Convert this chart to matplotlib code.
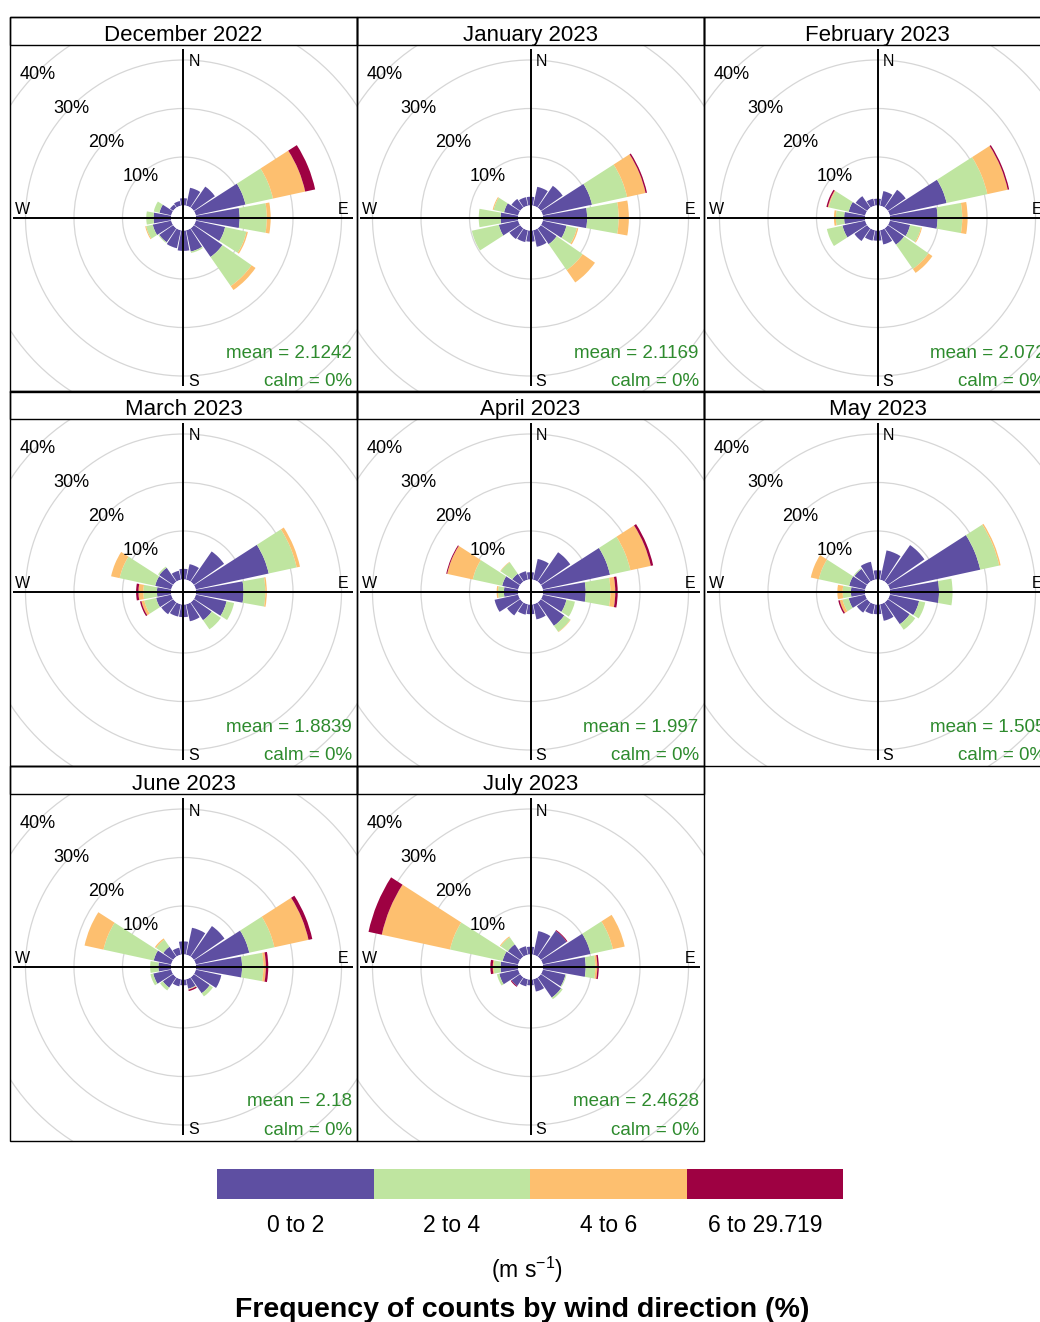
import numpy as np
import matplotlib
matplotlib.use('Agg')
import matplotlib.pyplot as plt
from matplotlib.patches import Rectangle, Circle

plt.rcParams['font.family'] = ['Liberation Sans', 'DejaVu Sans']
plt.rcParams['mathtext.fontset'] = 'custom'
plt.rcParams['mathtext.rm'] = 'Liberation Sans'
plt.rcParams['mathtext.it'] = 'Liberation Sans:italic'
plt.rcParams['mathtext.bf'] = 'Liberation Sans:bold'

# ---------------- data ----------------
months = ['December 2022', 'January 2023', 'February 2023', 'March 2023',
          'April 2023', 'May 2023', 'June 2023', 'July 2023']
mean_values = ['2.1242', '2.1169', '2.072', '1.8839', '1.997', '1.505', '2.18', '2.4628']
calm_values = ['0%'] * 8
directions = np.arange(16) * 22.5          # N, NNE, NE, ... NNW
speed_bins = ['0 to 2', '2 to 4', '4 to 6', '6 to 29.719']
speed_colors = ['#5E4FA2', '#BFE5A0', '#FDBF6F', '#9E0142']
grid_levels = [10, 20, 30, 40]

# percent frequency per direction (N..NNW) for each speed bin
#               N    NNE  NE   ENE   E    ESE  SE   SSE  S    SSW  SW   WSW  W    WNW   NW   NNW
dec_2022 = [[1.5, 3.8, 5.3, 10.5, 9.0, 6.2, 7.2, 4.5, 4.2, 3.8, 3.5, 3.9, 3.6, 2.5, 0.8, 1.0],
            [0.0, 0.0, 0.0, 5.8, 5.6, 4.5, 7.3, 0.3, 0.0, 0.0, 0.2, 1.4, 1.5, 1.2, 0.0, 0.0],
            [0.0, 0.0, 0.0, 6.8, 0.8, 0.3, 1.0, 0.0, 0.0, 0.0, 0.0, 0.2, 0.0, 0.0, 0.0, 0.0],
            [0.0, 0.0, 0.0, 2.1, 0.0, 0.0, 0.0, 0.0, 0.0, 0.0, 0.0, 0.0, 0.0, 0.0, 0.0, 0.0]]
jan_2023 = [[1.8, 4.0, 5.5, 10.4, 9.1, 5.0, 4.0, 3.5, 2.3, 2.5, 2.7, 4.1, 3.6, 3.0, 2.2, 1.8],
            [0.0, 0.0, 0.0, 7.4, 6.5, 2.2, 6.5, 0.0, 0.0, 0.0, 0.0, 5.7, 4.5, 2.2, 0.0, 0.0],
            [0.0, 0.0, 0.0, 3.9, 2.1, 0.3, 3.1, 0.0, 0.0, 0.0, 0.0, 0.0, 0.0, 0.2, 0.0, 0.0],
            [0.0, 0.0, 0.0, 0.3, 0.0, 0.0, 0.0, 0.0, 0.0, 0.0, 0.0, 0.0, 0.0, 0.0, 0.0, 0.0]]
feb_2023 = [[1.4, 3.1, 4.5, 12.0, 9.8, 4.3, 4.1, 3.0, 2.1, 2.2, 3.2, 4.8, 4.3, 3.5, 2.9, 1.5],
            [0.0, 0.0, 0.0, 8.6, 5.1, 2.3, 6.1, 0.0, 0.0, 0.0, 0.0, 3.3, 1.7, 4.2, 0.0, 0.0],
            [0.0, 0.0, 0.0, 4.3, 1.1, 0.2, 1.0, 0.0, 0.0, 0.0, 0.0, 0.0, 0.4, 0.2, 0.0, 0.0],
            [0.0, 0.0, 0.0, 0.3, 0.0, 0.0, 0.0, 0.0, 0.0, 0.0, 0.0, 0.0, 0.0, 0.3, 0.0, 0.0]]
mar_2023 = [[2.2, 3.3, 7.6, 15.4, 9.8, 6.5, 4.5, 3.6, 2.6, 2.6, 3.0, 3.2, 2.9, 3.4, 3.5, 1.9],
            [0.0, 0.0, 0.0, 5.9, 4.5, 1.6, 2.3, 0.0, 0.0, 0.0, 0.0, 2.5, 2.8, 7.5, 0.3, 0.0],
            [0.0, 0.0, 0.0, 0.7, 0.3, 0.0, 0.0, 0.0, 0.0, 0.0, 0.0, 0.6, 1.0, 1.8, 0.0, 0.0],
            [0.0, 0.0, 0.0, 0.0, 0.0, 0.0, 0.0, 0.0, 0.0, 0.0, 0.0, 0.3, 0.5, 0.0, 0.0, 0.0]]
apr_2023 = [[1.5, 4.4, 7.4, 14.2, 8.8, 5.0, 5.9, 3.2, 2.0, 2.2, 3.3, 5.0, 2.9, 3.4, 2.0, 1.8],
            [0.0, 0.0, 0.0, 4.3, 5.1, 1.8, 1.5, 0.0, 0.0, 0.0, 0.0, 0.0, 1.2, 6.2, 2.9, 0.0],
            [0.0, 0.0, 0.0, 4.3, 1.0, 0.0, 0.1, 0.0, 0.0, 0.0, 0.0, 0.0, 0.3, 5.4, 0.1, 0.0],
            [0.0, 0.0, 0.0, 0.5, 0.5, 0.0, 0.0, 0.0, 0.0, 0.0, 0.0, 0.0, 0.0, 0.2, 0.0, 0.0]]
may_2023 = [[1.9, 6.2, 9.2, 19.1, 10.1, 6.2, 5.5, 3.5, 2.0, 2.1, 2.6, 3.5, 2.9, 3.4, 3.2, 3.8],
            [0.0, 0.0, 0.0, 4.0, 2.8, 1.3, 1.4, 0.0, 0.0, 0.0, 0.0, 1.3, 1.7, 6.4, 0.2, 0.0],
            [0.0, 0.0, 0.0, 0.3, 0.0, 0.0, 0.0, 0.0, 0.0, 0.0, 0.0, 0.6, 1.1, 1.7, 0.0, 0.0],
            [0.0, 0.0, 0.0, 0.0, 0.0, 0.0, 0.0, 0.0, 0.0, 0.0, 0.0, 0.3, 0.0, 0.0, 0.0, 0.0]]
jun_2023 = [[2.7, 5.7, 7.7, 11.3, 9.5, 5.4, 4.0, 2.0, 1.2, 1.5, 2.6, 3.8, 2.6, 3.7, 2.5, 1.5],
            [0.0, 0.0, 0.0, 5.3, 4.4, 0.0, 0.8, 0.1, 0.0, 0.0, 0.7, 0.6, 1.7, 10.6, 1.8, 0.0],
            [0.0, 0.0, 0.0, 7.2, 0.5, 0.0, 0.0, 0.1, 0.0, 0.0, 0.0, 0.0, 0.0, 4.0, 0.3, 0.0],
            [0.0, 0.0, 0.0, 0.8, 0.5, 0.0, 0.0, 0.3, 0.0, 0.0, 0.0, 0.0, 0.0, 0.0, 0.0, 0.0]]
jul_2023 = [[1.6, 5.0, 6.5, 10.1, 8.8, 4.8, 5.1, 2.6, 1.2, 1.5, 2.2, 4.0, 3.6, 3.3, 3.1, 1.8],
            [0.0, 0.0, 0.0, 4.7, 2.0, 0.2, 0.4, 0.0, 0.0, 0.0, 0.0, 0.5, 1.4, 11.1, 1.8, 0.0],
            [0.0, 0.0, 0.0, 2.5, 0.4, 0.0, 0.0, 0.0, 0.0, 0.0, 0.0, 0.0, 0.2, 14.4, 0.2, 0.0],
            [0.0, 0.0, 0.2, 0.0, 0.3, 0.0, 0.0, 0.0, 0.0, 0.0, 0.2, 0.0, 0.5, 2.8, 0.0, 0.0]]
month_data = [dec_2022, jan_2023, feb_2023, mar_2023, apr_2023, may_2023, jun_2023, jul_2023]

# ---------------- layout ----------------
FW, FH = 1040, 1322
fig = plt.figure(figsize=(FW / 100, FH / 100), dpi=100)

def frect(x, y, w, h):
    return [x / FW, 1 - (y + h) / FH, w / FW, h / FH]

COL_X = [10, 357, 704]
ROW_Y = [17, 391, 766]
STRIP = 27.5
PANEL = 347.0
HALF = PANEL / 2
PX_PER = 4.85          # pixels per percent
OFF_PX = 12.5          # radius of central hole in pixels
OFF = OFF_PX / PX_PER
RMAX = (HALF - OFF_PX) / PX_PER
GRID_C = '#D6D6D6'
GREEN = '#2E8B2E'
theta = np.deg2rad(directions)
width = np.deg2rad(22.5 - 2)

for i, (month, data) in enumerate(zip(months, month_data)):
    r_, c_ = divmod(i, 3)
    x0 = COL_X[c_]
    ytop = ROW_Y[r_]
    py = ytop + STRIP
    rect = frect(x0, py, PANEL, PANEL)

    # background grid circles
    bg = fig.add_axes(rect, zorder=0)
    bg.set_xlim(-HALF, HALF)
    bg.set_ylim(-HALF, HALF)
    bg.set_axis_off()
    for p in grid_levels:
        bg.add_patch(Circle((0, 0), OFF_PX + p * PX_PER, fill=False,
                            ec=GRID_C, lw=0.9))

    # polar wind rose
    ax = fig.add_axes(rect, projection='polar', zorder=1)
    ax.set_theta_zero_location('N')
    ax.set_theta_direction(-1)
    ax.set_ylim(0, RMAX)
    ax.set_rorigin(-OFF)
    ax.set_axis_off()
    cum = np.zeros(len(directions))
    for k in range(len(speed_bins)):
        vals = np.array(data[k])
        ax.bar(theta, vals, width=width, bottom=cum, color=speed_colors[k],
               edgecolor='none', linewidth=0)
        cum = cum + vals

    # foreground decorations
    fg = fig.add_axes(rect, zorder=2)
    fg.set_xlim(-HALF, HALF)
    fg.set_ylim(-HALF, HALF)
    fg.set_axis_off()
    fg.plot([0, 0], [-167.5, 168.8], color='black', lw=1.4, solid_capstyle='butt')
    fg.plot([-170.5, 169.5], [0, 0], color='black', lw=1.4, solid_capstyle='butt')
    fg.text(5, 151.5, 'N', ha='left', va='baseline', fontsize=11.5)
    fg.text(5, -167.5, 'S', ha='left', va='baseline', fontsize=11.5)
    fg.text(-161, 3.8, 'W', ha='center', va='baseline', fontsize=11.5)
    fg.text(159.5, 3.8, 'E', ha='center', va='baseline', fontsize=11.5)
    for p in grid_levels:
        rr = (OFF_PX + p * PX_PER) / np.sqrt(2)
        fg.text(-rr, rr - 6.6, f'{p}%', ha='center', va='baseline', fontsize=13)
    fg.text(HALF - 5.3, -HALF + 34, f'mean = {mean_values[i]}', ha='right',
            va='baseline', color=GREEN, fontsize=13.5)
    fg.text(HALF - 5.3, -HALF + 5.7, f'calm = {calm_values[i]}', ha='right',
            va='baseline', color=GREEN, fontsize=13.5)

    # strip and frames
    fig.add_artist(Rectangle((x0 / FW, 1 - py / FH), PANEL / FW, STRIP / FH,
                             transform=fig.transFigure, fill=False, ec='black',
                             lw=1.0, zorder=5))
    fig.add_artist(Rectangle((x0 / FW, 1 - (py + PANEL) / FH), PANEL / FW,
                             (PANEL + STRIP) / FH, transform=fig.transFigure,
                             fill=False, ec='black', lw=1.0, zorder=5))
    fig.text((x0 + HALF) / FW, 1 - (ytop + 24) / FH, month, ha='center',
             va='baseline', fontsize=16)

# ---------------- legend ----------------
leg = fig.add_axes(frect(217, 1169, 626, 30))
leg.bar(np.arange(len(speed_bins)), np.ones(len(speed_bins)), width=1.0,
        color=speed_colors, edgecolor='none')
leg.set_xlim(-0.5, len(speed_bins) - 0.5)
leg.set_ylim(0, 1)
leg.set_axis_off()
for k, lab in enumerate(speed_bins):
    leg.text(k, -32.7 / 30, lab, transform=leg.get_xaxis_transform(),
             ha='center', va='baseline', fontsize=16.5)

fig.text(527 / FW, 1 - 1278.3 / FH, r'(m s$^{-1}$)', ha='center', va='baseline',
         fontsize=16.5)
fig.text(522 / FW, 1 - 1316.7 / FH, 'Frequency of counts by wind direction (%)',
         ha='center', va='baseline', fontsize=20.5, fontweight='bold')

fig.savefig('out.png', dpi=100)
